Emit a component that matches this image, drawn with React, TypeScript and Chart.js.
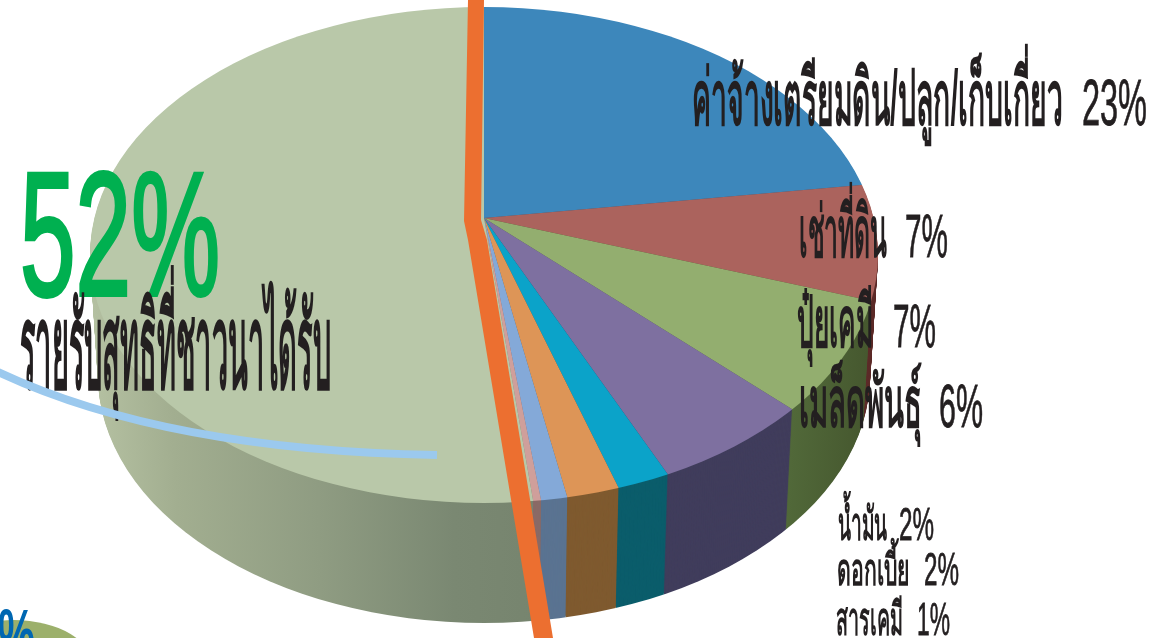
import React, { useEffect, useRef } from "react";
import { Chart, registerables } from "chart.js";

Chart.register(...registerables);

// Data, clockwise from 12 o'clock
const sliceNames = ["ค่าจ้างเตรียมดิน/ปลูก/เก็บเกี่ยว", "เช่าที่ดิน", "ปุ๋ยเคมี", "เมล็ดพันธุ์", "น้ำมัน", "ดอกเบี้ย", "สารเคมี", "อื่นๆ", "รายรับสุทธิที่ชาวนาได้รับ"];
const sliceValues = [23, 7, 7, 6, 2, 2, 1, 0.3, 52];
const topColors = ["#3d87bb", "#ab635d", "#93ae6f", "#7e70a0", "#0ba3c9", "#dd9557", "#84a9d8", "#cf9f9b", "#b9c8a9"];
const wallColors = ["#2a5a7e", "#5e2d2a", "#4f6539", "#403d5c", "#0b5d6b", "#7f5a2f", "#5a7391", "#8a6a66", "#76846e"];

// label layout: [slice index, name left, name right, value left, value right, baseline, name size, value size]
const labelLayout = [
  [0, 692, 1063, 1082, 1147, 125, 78, 65],
  [1, 799, 887, 905, 948, 257, 72, 62],
  [2, 797, 873, 893, 936, 347, 72, 62],
  [3, 799, 922, 939, 983, 427, 72, 62],
  [4, 838, 887, 899, 934, 540, 46, 46],
  [5, 837, 910, 924, 959, 585, 44, 46],
  [6, 836, 903, 917, 950, 635, 46, 46],
];

// Picture geometry
const APEX_X = 484, APEX_Y = 218, SQUASH = 0.67, RADIUS = 520;
const FACE_CX = 484, FACE_CY = 255, FACE_RX = 394, FACE_RY = 248;
const DEPTH = 120, TAPER = 0.02;
const FONT = '"Liberation Sans Narrow","Liberation Sans","Noto Sans",sans-serif';

function fitText(ctx: CanvasRenderingContext2D, text: string, left: number, right: number, base: number, size: number, color: string, weight = "bold", stroke = 0) {
  ctx.save();
  ctx.font = `${weight} ${size}px ${FONT}`;
  ctx.fillStyle = color;
  ctx.strokeStyle = color;
  ctx.textBaseline = "alphabetic";
  ctx.textAlign = "left";
  const w = ctx.measureText(text).width;
  ctx.translate(left, base);
  ctx.scale((right - left) / w, 1);
  ctx.fillText(text, 0, 0);
  if (stroke > 0) {
    ctx.lineWidth = stroke;
    ctx.strokeText(text, 0, 0);
  }
  ctx.restore();
}

const pie3d = {
  id: "pie3d",
  beforeDatasetsDraw(chart: any) {
    const ctx: CanvasRenderingContext2D = chart.ctx;
    const arcs = chart.getDatasetMeta(0).data;
    const cx = arcs[0].x, cy = arcs[0].y;

    const paint = (shift: number, colorOf: (i: number) => any) => {
      const s = 1 - (TAPER * shift) / DEPTH;
      ctx.save();
      ctx.beginPath();
      ctx.ellipse(FACE_CX, FACE_CY + shift, FACE_RX * s, FACE_RY, 0, 0, Math.PI * 2);
      ctx.clip();
      ctx.translate(APEX_X, APEX_Y + shift);
      ctx.scale(s, SQUASH);
      ctx.translate(-cx, -cy);
      arcs.forEach((arc: any, i: number) => {
        const orig = arc.options;
        arc.options = Object.assign(Object.create(orig), { backgroundColor: colorOf(i), borderWidth: 0 });
        arc.draw(ctx);
        arc.options = orig;
      });
      ctx.restore();
    };

    const toUser = (x: number) => cx + x - APEX_X;
    const bigWall = ctx.createLinearGradient(toUser(90), 0, toUser(545), 0);
    bigWall.addColorStop(0, "#b4c0a1");
    bigWall.addColorStop(0.18, "#a2ae90");
    bigWall.addColorStop(0.5, "#8f9c82");
    bigWall.addColorStop(0.8, "#7a8872");
    bigWall.addColorStop(1, "#76846e");
    const greenWall = ctx.createLinearGradient(toUser(785), 0, toUser(870), 0);
    greenWall.addColorStop(0, "#526a3a");
    greenWall.addColorStop(1, "#46582f");

    for (let d = DEPTH; d >= 1; d -= 1) {
      paint(d, (i) => (i === 8 ? bigWall : i === 2 ? greenWall : wallColors[i]));
    }
    paint(0, (i) => topColors[i]);
    return false;
  },
  afterDraw(chart: any) {
    const ctx: CanvasRenderingContext2D = chart.ctx;
    ctx.save();

    // corner of the neighbouring pie at the bottom left
    ctx.fillStyle = "#9cb06b";
    ctx.beginPath();
    ctx.ellipse(14, 668, 80, 48, 0, 0, Math.PI * 2);
    ctx.fill();

    // orange divider
    ctx.fillStyle = "#ec6f30";
    ctx.beginPath();
    ctx.moveTo(468, 0);
    ctx.lineTo(484, 0);
    ctx.lineTo(481, 220);
    ctx.lineTo(487, 240);
    ctx.lineTo(553, 638);
    ctx.lineTo(534, 638);
    ctx.lineTo(468, 240);
    ctx.lineTo(464, 221);
    ctx.closePath();
    ctx.fill();

    // texts
    labelLayout.forEach(([i, nl, nr, vl, vr, b, ns, vs]) => {
      fitText(ctx, sliceNames[i], nl, nr, b, ns, "#231f20");
      fitText(ctx, `${sliceValues[i]}%`, vl, vr, b, vs, "#231f20", "normal", 0.8);
    });
    fitText(ctx, `${sliceValues[8]}%`, 20, 220, 295, 176, "#00b050", "normal", 4);
    fitText(ctx, sliceNames[8], 20, 331, 388, 118, "#231f20");
    fitText(ctx, "0%", -25, 35, 660, 72, "#0067b2");

    // light-blue swoosh
    ctx.strokeStyle = "#9bc9ee";
    ctx.lineWidth = 8;
    ctx.beginPath();
    ctx.moveTo(-4, 371);
    ctx.bezierCurveTo(110, 425, 260, 452, 437, 455);
    ctx.stroke();

    ctx.restore();
  },
};

export default function App() {
  const ref = useRef<HTMLCanvasElement>(null);
  useEffect(() => {
    document.body.style.margin = "0";
    document.body.style.overflow = "hidden";
    const chart = new Chart(ref.current as HTMLCanvasElement, {
      type: "pie",
      data: {
        labels: sliceNames,
        datasets: [{ data: sliceValues, backgroundColor: topColors, borderWidth: 0, clip: false }],
      },
      options: {
        responsive: false,
        animation: false,
        radius: RADIUS,
        rotation: 0,
        events: [],
        plugins: { legend: { display: false }, tooltip: { enabled: false } },
      } as any,
      plugins: [pie3d as any],
    });
    return () => chart.destroy();
  }, []);
  return <canvas ref={ref} width={1162} height={638} style={{ display: "block" }} />;
}
